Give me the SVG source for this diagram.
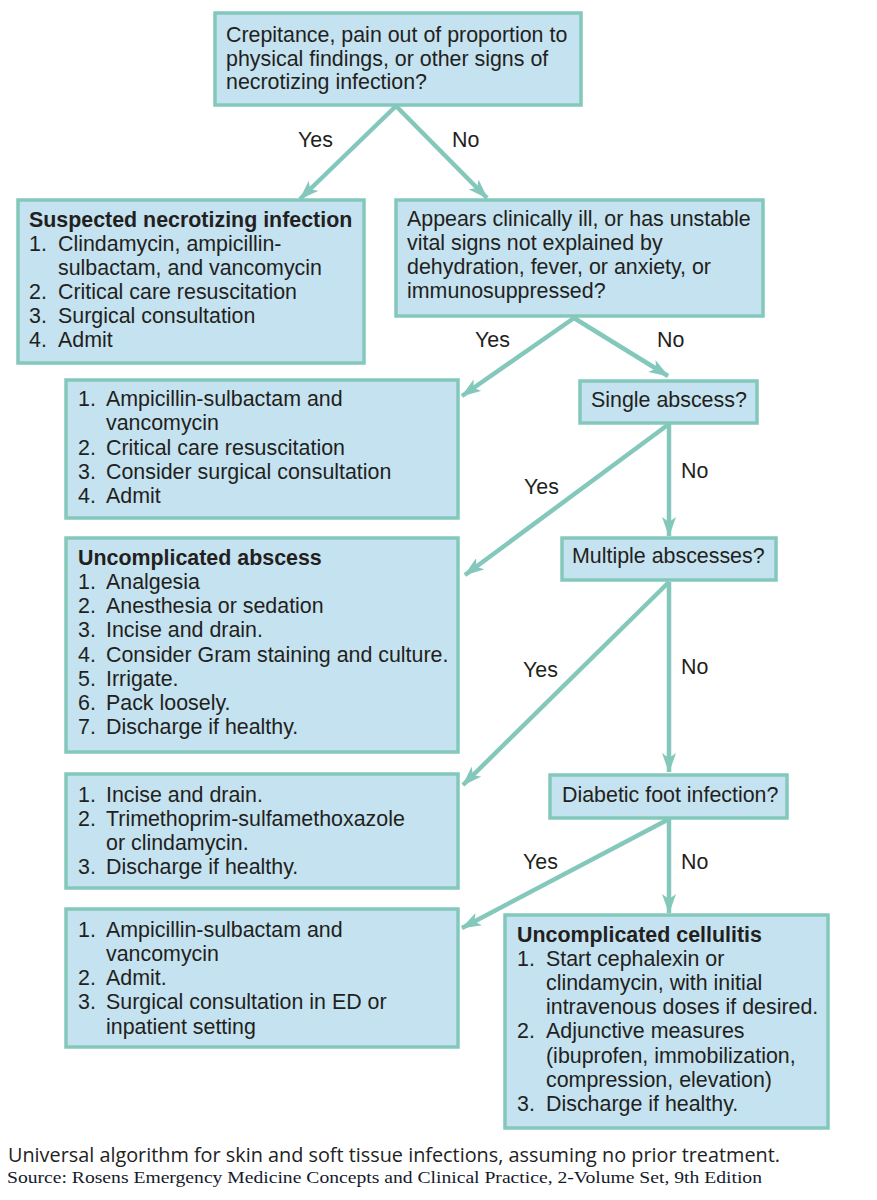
<svg xmlns="http://www.w3.org/2000/svg" width="877" height="1200" viewBox="0 0 877 1200">
<style>
.box{fill:#c4e2ef;stroke:#84c8bc;stroke-width:3.5}
.t{font-family:"Liberation Sans",Arial,sans-serif;font-size:21.4px;fill:#231f20}
.b{font-weight:bold}
.lbl{font-family:"Liberation Sans",Arial,sans-serif;font-size:21.4px;fill:#231f20}
.c{stroke:#84c8bc;stroke-width:4.5;fill:none;marker-end:url(#ah)}
</style>
<defs>
<marker id="ah" viewBox="0 0 20 14" refX="19" refY="7" markerWidth="20" markerHeight="14" markerUnits="userSpaceOnUse" orient="auto">
<path d="M0,0 L20,7 L0,14 L5,7 Z" fill="#84c8bc"/>
</marker>
</defs>
<rect width="877" height="1200" fill="#ffffff"/>

<g id="connectors">
<line class="c" x1="396" y1="106" x2="300" y2="199"/>
<line class="c" x1="396" y1="106" x2="487" y2="198"/>
<line class="c" x1="574" y1="318" x2="462" y2="396"/>
<line class="c" x1="574" y1="318" x2="668" y2="376"/>
<line class="c" x1="669" y1="424" x2="465" y2="575"/>
<line class="c" x1="669" y1="424" x2="669" y2="536"/>
<line class="c" x1="669" y1="582" x2="463" y2="785"/>
<line class="c" x1="669" y1="582" x2="669" y2="772"/>
<line class="c" x1="669" y1="819" x2="462" y2="928"/>
<line class="c" x1="669" y1="819" x2="669" y2="913"/>
<text class="lbl" x="298" y="147">Yes</text>
<text class="lbl" x="452" y="147">No</text>
<text class="lbl" x="475" y="347">Yes</text>
<text class="lbl" x="657" y="347">No</text>
<text class="lbl" x="524" y="494">Yes</text>
<text class="lbl" x="681" y="478">No</text>
<text class="lbl" x="523" y="677">Yes</text>
<text class="lbl" x="681" y="674">No</text>
<text class="lbl" x="523" y="869">Yes</text>
<text class="lbl" x="681" y="869">No</text>
</g>

<g id="n1">
<rect class="box" x="215" y="13" width="366" height="92"/>
<text class="t" x="226" y="42">Crepitance, pain out of proportion to</text>
<text class="t" x="226" y="66">physical findings, or other signs of</text>
<text class="t" x="226" y="89">necrotizing infection?</text>
</g>

<g id="n2">
<rect class="box" x="18" y="200" width="346" height="163"/>
<text class="t b" x="29" y="227">Suspected necrotizing infection</text>
<text class="t" x="29" y="251">1.</text><text class="t" x="58" y="251">Clindamycin, ampicillin-</text>
<text class="t" x="58" y="275">sulbactam, and vancomycin</text>
<text class="t" x="29" y="299">2.</text><text class="t" x="58" y="299">Critical care resuscitation</text>
<text class="t" x="29" y="323">3.</text><text class="t" x="58" y="323">Surgical consultation</text>
<text class="t" x="29" y="347">4.</text><text class="t" x="58" y="347">Admit</text>
</g>

<g id="n3">
<rect class="box" x="396" y="200" width="367" height="116"/>
<text class="t" x="407" y="226">Appears clinically ill, or has unstable</text>
<text class="t" x="407" y="250">vital signs not explained by</text>
<text class="t" x="407" y="274">dehydration, fever, or anxiety, or</text>
<text class="t" x="407" y="298">immunosuppressed?</text>
</g>

<g id="n4">
<rect class="box" x="66" y="380" width="392" height="138"/>
<text class="t" x="78" y="406">1.</text><text class="t" x="106" y="406">Ampicillin-sulbactam and</text>
<text class="t" x="106" y="430">vancomycin</text>
<text class="t" x="78" y="455">2.</text><text class="t" x="106" y="455">Critical care resuscitation</text>
<text class="t" x="78" y="479">3.</text><text class="t" x="106" y="479">Consider surgical consultation</text>
<text class="t" x="78" y="503">4.</text><text class="t" x="106" y="503">Admit</text>
</g>

<g id="n5">
<rect class="box" x="580" y="381" width="177" height="42"/>
<text class="t" x="591" y="407">Single abscess?</text>
</g>

<g id="n6">
<rect class="box" x="66" y="538" width="392" height="214"/>
<text class="t b" x="78" y="565">Uncomplicated abscess</text>
<text class="t" x="78" y="589">1.</text><text class="t" x="106" y="589">Analgesia</text>
<text class="t" x="78" y="613">2.</text><text class="t" x="106" y="613">Anesthesia or sedation</text>
<text class="t" x="78" y="637">3.</text><text class="t" x="106" y="637">Incise and drain.</text>
<text class="t" x="78" y="662">4.</text><text class="t" x="106" y="662">Consider Gram staining and culture.</text>
<text class="t" x="78" y="686">5.</text><text class="t" x="106" y="686">Irrigate.</text>
<text class="t" x="78" y="710">6.</text><text class="t" x="106" y="710">Pack loosely.</text>
<text class="t" x="78" y="734">7.</text><text class="t" x="106" y="734">Discharge if healthy.</text>
</g>

<g id="n7">
<rect class="box" x="562" y="538" width="214" height="42"/>
<text class="t" x="572" y="563">Multiple abscesses?</text>
</g>

<g id="n8">
<rect class="box" x="66" y="774" width="392" height="114"/>
<text class="t" x="78" y="802">1.</text><text class="t" x="106" y="802">Incise and drain.</text>
<text class="t" x="78" y="826">2.</text><text class="t" x="106" y="826">Trimethoprim-sulfamethoxazole</text>
<text class="t" x="106" y="850">or clindamycin.</text>
<text class="t" x="78" y="874">3.</text><text class="t" x="106" y="874">Discharge if healthy.</text>
</g>

<g id="n9">
<rect class="box" x="550" y="775" width="237" height="43"/>
<text class="t" x="562" y="802">Diabetic foot infection?</text>
</g>

<g id="n10">
<rect class="box" x="66" y="909" width="392" height="138"/>
<text class="t" x="78" y="937">1.</text><text class="t" x="106" y="937">Ampicillin-sulbactam and</text>
<text class="t" x="106" y="961">vancomycin</text>
<text class="t" x="78" y="985">2.</text><text class="t" x="106" y="985">Admit.</text>
<text class="t" x="78" y="1009">3.</text><text class="t" x="106" y="1009">Surgical consultation in ED or</text>
<text class="t" x="106" y="1034">inpatient setting</text>
</g>

<g id="n11">
<rect class="box" x="505" y="915" width="323" height="213"/>
<text class="t b" x="517" y="942">Uncomplicated cellulitis</text>
<text class="t" x="517" y="966">1.</text><text class="t" x="546" y="966">Start cephalexin or</text>
<text class="t" x="546" y="990">clindamycin, with initial</text>
<text class="t" x="546" y="1014">intravenous doses if desired.</text>
<text class="t" x="517" y="1038">2.</text><text class="t" x="546" y="1038">Adjunctive measures</text>
<text class="t" x="546" y="1063">(ibuprofen, immobilization,</text>
<text class="t" x="546" y="1087">compression, elevation)</text>
<text class="t" x="517" y="1111">3.</text><text class="t" x="546" y="1111">Discharge if healthy.</text>
</g>

<g id="caption">
<text x="8" y="1162" font-family="'Open Sans','Noto Sans',sans-serif" font-size="20" fill="#222222" textLength="772" lengthAdjust="spacingAndGlyphs">Universal algorithm for skin and soft tissue infections, assuming no prior treatment.</text>
<text x="7" y="1183" font-family="'Liberation Serif','Times New Roman',serif" font-size="17" fill="#141a2c" textLength="755" lengthAdjust="spacingAndGlyphs">Source: Rosens Emergency Medicine Concepts and Clinical Practice, 2-Volume Set, 9th Edition</text>
</g>
</svg>
